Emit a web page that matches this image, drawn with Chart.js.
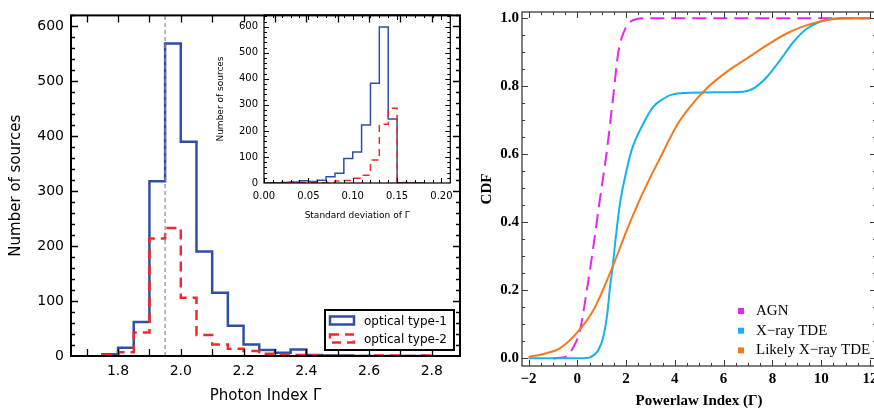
<!DOCTYPE html>
<html>
<head>
<meta charset="utf-8">
<title>Photon index distribution and CDF</title>
<script src="https://cdn.jsdelivr.net/npm/chart.js@4.4.1/dist/chart.umd.min.js"></script>
<style>
  html, body { margin: 0; padding: 0; background: #fff; }
  body { position: relative; width: 874px; height: 412px; overflow: hidden; }
  canvas { position: absolute; top: 0; }
  #histChart { left: 0; }
  #insetChart { left: 200px; }
  #cdfChart { left: 470px; }
</style>
</head>
<body>
<canvas id="histChart" width="470" height="412"></canvas>
<canvas id="insetChart" width="260" height="225"></canvas>
<canvas id="cdfChart" width="420" height="412"></canvas>
<script>
// left panel: photon index histogram (bin edges and counts per bin)
const photonEdges = [1.75, 1.80, 1.85, 1.90, 1.95, 2.00, 2.05, 2.10, 2.15, 2.20, 2.25,
                     2.30, 2.35, 2.40, 2.45, 2.50, 2.55, 2.60, 2.65, 2.70, 2.75, 2.80];
const type1Counts = [3, 15, 62, 318, 569, 390, 190, 115, 55, 21, 11, 6, 12, 2, 1, 1, 0, 0, 0, 0, 0];
const type2Counts = [2, 7, 43, 214, 233, 106, 38, 21, 13, 9, 4, 3, 2, 1, 0, 0, 0, 1, 1, 0, 1];
const medianGamma = 1.95;
const histLabels = ['optical type-1', 'optical type-2'];
const histXTicks = [1.8, 2.0, 2.2, 2.4, 2.6, 2.8];
const histYTicks = [0, 100, 200, 300, 400, 500, 600];

// inset: standard deviation of Gamma
const sigmaEdges = [0.00, 0.01, 0.02, 0.03, 0.04, 0.05, 0.06, 0.07, 0.08, 0.09,
                    0.10, 0.11, 0.12, 0.13, 0.14, 0.15, 0.16, 0.17, 0.18];
const sigmaType1 = [1, 1, 2, 4, 9, 6, 11, 24, 37, 94, 119, 223, 383, 599, 246, 1, 0, 0];
const sigmaType2 = [0, 1, 3, 3, 2, 3, 1, 3, 8, 10, 18, 30, 88, 226, 287, 2, 2, 1];
const insetXTicks = [0.00, 0.05, 0.10, 0.15, 0.20];
const insetYTicks = [0, 100, 200, 300, 400, 500, 600];

// right panel: cumulative distributions of the powerlaw index
const cdfLabels = ['AGN', 'X\u2212ray TDE', 'Likely X\u2212ray TDE'];
const agnX =   [-1.0, -0.8, -0.45, -0.2, 0.11, 0.39, 0.66, 0.93, 1.21, 1.48, 1.68, 1.96, 2.3, 2.8, 12.0];
const agnCdf = [0, 0.001, 0.006, 0.028, 0.083, 0.2, 0.33, 0.47, 0.61, 0.775, 0.9, 0.968, 0.995, 1.0, 1.0];
const tdeX =   [-2, 0, 0.3, 0.52, 0.86, 1.07, 1.23, 1.34, 1.45, 1.58, 1.75, 1.96, 2.23, 2.64, 3.12, 3.5,
                3.81, 4.3, 5.2, 6.6, 7.0, 7.3, 7.78, 8.32, 8.87, 9.42, 10.1, 10.8, 12];
const tdeCdf = [0, 0, 0.0005, 0.003, 0.024, 0.064, 0.132, 0.21, 0.27, 0.358, 0.456, 0.534, 0.613, 0.681, 0.74, 0.762,
                0.774, 0.78, 0.782, 0.783, 0.787, 0.797, 0.828, 0.877, 0.931, 0.97, 0.993, 1.0, 1.0];
const likelyX =   [-2, -1.26, -0.71, -0.03, 0.66, 1.45, 2.03, 2.71, 3.4, 4.08, 4.63, 5.31, 6.14, 6.96,
                   7.78, 8.6, 9.42, 10.24, 11.06, 12];
const likelyCdf = [0.004, 0.015, 0.03, 0.074, 0.142, 0.27, 0.377, 0.49, 0.59, 0.685, 0.74, 0.794, 0.843, 0.882,
                   0.921, 0.956, 0.98, 0.995, 1.0, 1.0];
const cdfXTicks = [-2, 0, 2, 4, 6, 8, 10, 12];
const cdfYTicks = [0, 0.2, 0.4, 0.6, 0.8, 1.0];

const BLUE = '#2f4fa5', RED = '#f02a2a';
const cdfColors = ['#e526f0', '#15b2ee', '#f4791d'];

Chart.defaults.font.family = "'DejaVu Sans', sans-serif";
Chart.defaults.color = '#000';
Chart.defaults.animation = false;

function range(start, stop, step) {
  const out = [];
  for (let v = start; v <= stop + step / 2; v += step) out.push(+v.toFixed(4));
  return out;
}

// histogram outline: vertical up at the first edge, steps, back down at the last edge
function stepPoints(edges, counts) {
  const pts = [{ x: edges[0], y: 0 }];
  counts.forEach((c, i) => pts.push({ x: edges[i], y: c }));
  const last = edges[edges.length - 1];
  pts.push({ x: last, y: counts[counts.length - 1] });
  pts.push({ x: last, y: 0 });
  return pts;
}

function curve(xs, ys) {
  return xs.map((x, i) => ({ x: x, y: ys[i] }));
}

// inward ticks on the frame, then the frame itself on top of the data
const frameTicks = {
  id: 'frameTicks',
  afterDatasetsDraw(chart, args, o) {
    const { ctx, chartArea: a } = chart;
    const xs = chart.scales.x, ys = chart.scales.y;
    ctx.save();
    ctx.strokeStyle = o.color;
    ctx.lineWidth = o.tickWidth;
    ctx.beginPath();
    const xt = (vals, len) => vals.forEach(v => {
      const p = Math.round(xs.getPixelForValue(v)) + 0.5;
      if (p < a.left || p > a.right) return;
      ctx.moveTo(p, a.bottom); ctx.lineTo(p, a.bottom - len);
      ctx.moveTo(p, a.top); ctx.lineTo(p, a.top + len);
    });
    const yt = (vals, len) => vals.forEach(v => {
      const p = Math.round(ys.getPixelForValue(v)) + 0.5;
      if (p < a.top || p > a.bottom) return;
      ctx.moveTo(a.left, p); ctx.lineTo(a.left + len, p);
      ctx.moveTo(a.right, p); ctx.lineTo(a.right - len, p);
    });
    xt(o.xMinor, o.minorLen); xt(o.xMajor, o.majorLen);
    yt(o.yMinor, o.minorLen); yt(o.yMajor, o.majorLen);
    ctx.stroke();
    ctx.lineWidth = o.lineWidth;
    ctx.strokeRect(a.left, a.top, a.right - a.left, a.bottom - a.top);
    ctx.restore();
  }
};

function axis(opts) {
  return {
    type: 'linear',
    min: opts.min,
    max: opts.max,
    grid: { display: false, drawTicks: false },
    border: { display: false },
    afterBuildTicks: s => { s.ticks = opts.ticks.map(v => ({ value: v })); },
    afterFit: s => { if (opts.isX) s.height = opts.size; else s.width = opts.size; },
    ticks: {
      autoSkip: false, maxRotation: 0, padding: opts.pad, color: '#000',
      font: opts.font, callback: opts.fmt
    },
    title: {
      display: true, text: opts.title, color: '#000', font: opts.titleFont,
      padding: opts.isX ? { top: 0, bottom: opts.titlePad } : { top: opts.titlePad, bottom: 0 }
    }
  };
}

// ---------- main histogram ----------
const histLegend = {
  id: 'histLegend',
  afterDraw(chart) {
    const ctx = chart.ctx;
    ctx.save();
    ctx.fillStyle = '#fff';
    ctx.fillRect(325, 310, 129, 40);
    ctx.strokeStyle = '#000';
    ctx.lineWidth = 2;
    ctx.strokeRect(325, 310, 129, 40);
    const colors = [BLUE, RED];
    const rows = [320.5, 338.5];
    histLabels.forEach((label, i) => {
      ctx.strokeStyle = colors[i];
      ctx.lineWidth = 2.5;
      ctx.setLineDash(i === 1 ? [9, 6] : []);
      ctx.strokeRect(330, rows[i] - 4, 24, 8);
      ctx.setLineDash([]);
      ctx.fillStyle = '#000';
      ctx.font = "12px 'DejaVu Sans'";
      ctx.textBaseline = 'middle';
      ctx.fillText(label, 364, rows[i] + 1);
    });
    ctx.restore();
  }
};

new Chart(document.getElementById('histChart'), {
  type: 'line',
  data: {
    datasets: [
      { data: [{ x: medianGamma, y: 0 }, { x: medianGamma, y: 620 }], borderColor: '#8a8a8a',
        borderWidth: 1.2, borderDash: [4, 3], pointRadius: 0, order: 0 },
      { label: histLabels[1], data: stepPoints(photonEdges, type2Counts), stepped: 'before',
        borderColor: RED, borderWidth: 2.5, borderDash: [10, 6], pointRadius: 0, order: 1 },
      { label: histLabels[0], data: stepPoints(photonEdges, type1Counts), stepped: 'before',
        borderColor: BLUE, borderWidth: 2.5, pointRadius: 0, order: 2 }
    ]
  },
  options: {
    responsive: false,
    layout: { padding: { top: 7, right: 10, left: 0, bottom: 0 } },
    scales: {
      x: axis({ isX: true, min: 1.65, max: 2.89, ticks: histXTicks, size: 56, pad: 7,
                font: { size: 14 }, fmt: v => v.toFixed(1), title: 'Photon Index \u0393',
                titleFont: { size: 15 }, titlePad: 7 }),
      y: axis({ isX: false, min: 0, max: 620, ticks: histYTicks, size: 71, pad: 7,
                font: { size: 14 }, fmt: v => String(v), title: 'Number of sources',
                titleFont: { size: 15 }, titlePad: 7 })
    },
    plugins: {
      legend: { display: false },
      tooltip: { enabled: false },
      frameTicks: { color: '#000', lineWidth: 2, tickWidth: 1.3, majorLen: 7, minorLen: 4,
                    xMajor: range(1.7, 2.8, 0.1), xMinor: [],
                    yMajor: range(0, 600, 100), yMinor: range(0, 620, 20) }
    }
  },
  plugins: [frameTicks, histLegend]
});

// ---------- inset ----------
new Chart(document.getElementById('insetChart'), {
  type: 'line',
  data: {
    datasets: [
      { data: stepPoints(sigmaEdges, sigmaType2), stepped: 'before', borderColor: RED,
        borderWidth: 1.5, borderDash: [7, 5], pointRadius: 0, order: 0 },
      { data: stepPoints(sigmaEdges, sigmaType1), stepped: 'before', borderColor: BLUE,
        borderWidth: 1.5, pointRadius: 0, order: 1 }
    ]
  },
  options: {
    responsive: false,
    layout: { padding: { top: 15, right: 9, left: 0, bottom: 0 } },
    scales: {
      x: axis({ isX: true, min: 0, max: 0.21, ticks: insetXTicks, size: 42, pad: 7,
                font: { size: 10 }, fmt: v => v.toFixed(2), title: 'Standard deviation of \u0393',
                titleFont: { size: 9 }, titlePad: 4 }),
      y: axis({ isX: false, min: 0, max: 645, ticks: insetYTicks, size: 64, pad: 6,
                font: { size: 10 }, fmt: v => String(v), title: 'Number of sources',
                titleFont: { size: 9 }, titlePad: 15 })
    },
    plugins: {
      legend: { display: false },
      tooltip: { enabled: false },
      frameTicks: { color: '#000', lineWidth: 1.2, tickWidth: 1, majorLen: 5, minorLen: 3,
                    xMajor: range(0, 0.2, 0.05), xMinor: range(0, 0.21, 0.01),
                    yMajor: range(0, 600, 100), yMinor: range(0, 640, 20) }
    }
  },
  plugins: [frameTicks]
});

// ---------- CDF panel ----------
const cdfLegend = {
  id: 'cdfLegend',
  afterDraw(chart) {
    const ctx = chart.ctx;
    ctx.save();
    ctx.font = "15px 'Liberation Serif', serif";
    ctx.textBaseline = 'middle';
    cdfLabels.forEach((label, i) => {
      const y = 311 + i * 19.7;
      ctx.fillStyle = cdfColors[i];
      ctx.fillRect(268, y - 3, 6, 6);
      ctx.fillStyle = '#000';
      ctx.fillText(label, 286, y);
    });
    ctx.restore();
  }
};

const serif = "'Liberation Serif', serif";
new Chart(document.getElementById('cdfChart'), {
  type: 'line',
  data: {
    datasets: [
      { label: cdfLabels[2], data: curve(likelyX, likelyCdf), borderColor: cdfColors[2],
        borderWidth: 2, pointRadius: 0, cubicInterpolationMode: 'monotone', order: 0 },
      { label: cdfLabels[1], data: curve(tdeX, tdeCdf), borderColor: cdfColors[1],
        borderWidth: 2, pointRadius: 0, cubicInterpolationMode: 'monotone', order: 1 },
      { label: cdfLabels[0], data: curve(agnX, agnCdf), borderColor: cdfColors[0],
        borderWidth: 2, borderDash: [14, 7], pointRadius: 0, cubicInterpolationMode: 'monotone', order: 2 }
    ]
  },
  options: {
    responsive: false,
    layout: { padding: { top: 12, right: 14, left: 0, bottom: 0 } },
    scales: {
      x: axis({ isX: true, min: -2.27, max: 12.25, ticks: cdfXTicks, size: 46, pad: 4,
                font: { family: serif, size: 15, weight: 'bold' },
                fmt: v => String(v).replace('-', '\u2212'), title: 'Powerlaw Index (\u0393)',
                titleFont: { family: serif, size: 15, weight: 'bold' }, titlePad: 2 }),
      y: axis({ isX: false, min: -0.0226, max: 1.0185, ticks: cdfYTicks, size: 52, pad: 3,
                font: { family: serif, size: 15, weight: 'bold' }, fmt: v => v.toFixed(1),
                title: 'CDF', titleFont: { family: serif, size: 15, weight: 'bold' }, titlePad: 8 })
    },
    plugins: {
      legend: { display: false },
      tooltip: { enabled: false },
      frameTicks: { color: '#3a3a3a', lineWidth: 1.3, tickWidth: 1, majorLen: 6, minorLen: 3,
                    xMajor: range(-2, 12, 2), xMinor: range(-2, 12, 0.5),
                    yMajor: range(0, 1, 0.2), yMinor: range(0, 1, 0.05) }
    }
  },
  plugins: [frameTicks, cdfLegend]
});
</script>
</body>
</html>
